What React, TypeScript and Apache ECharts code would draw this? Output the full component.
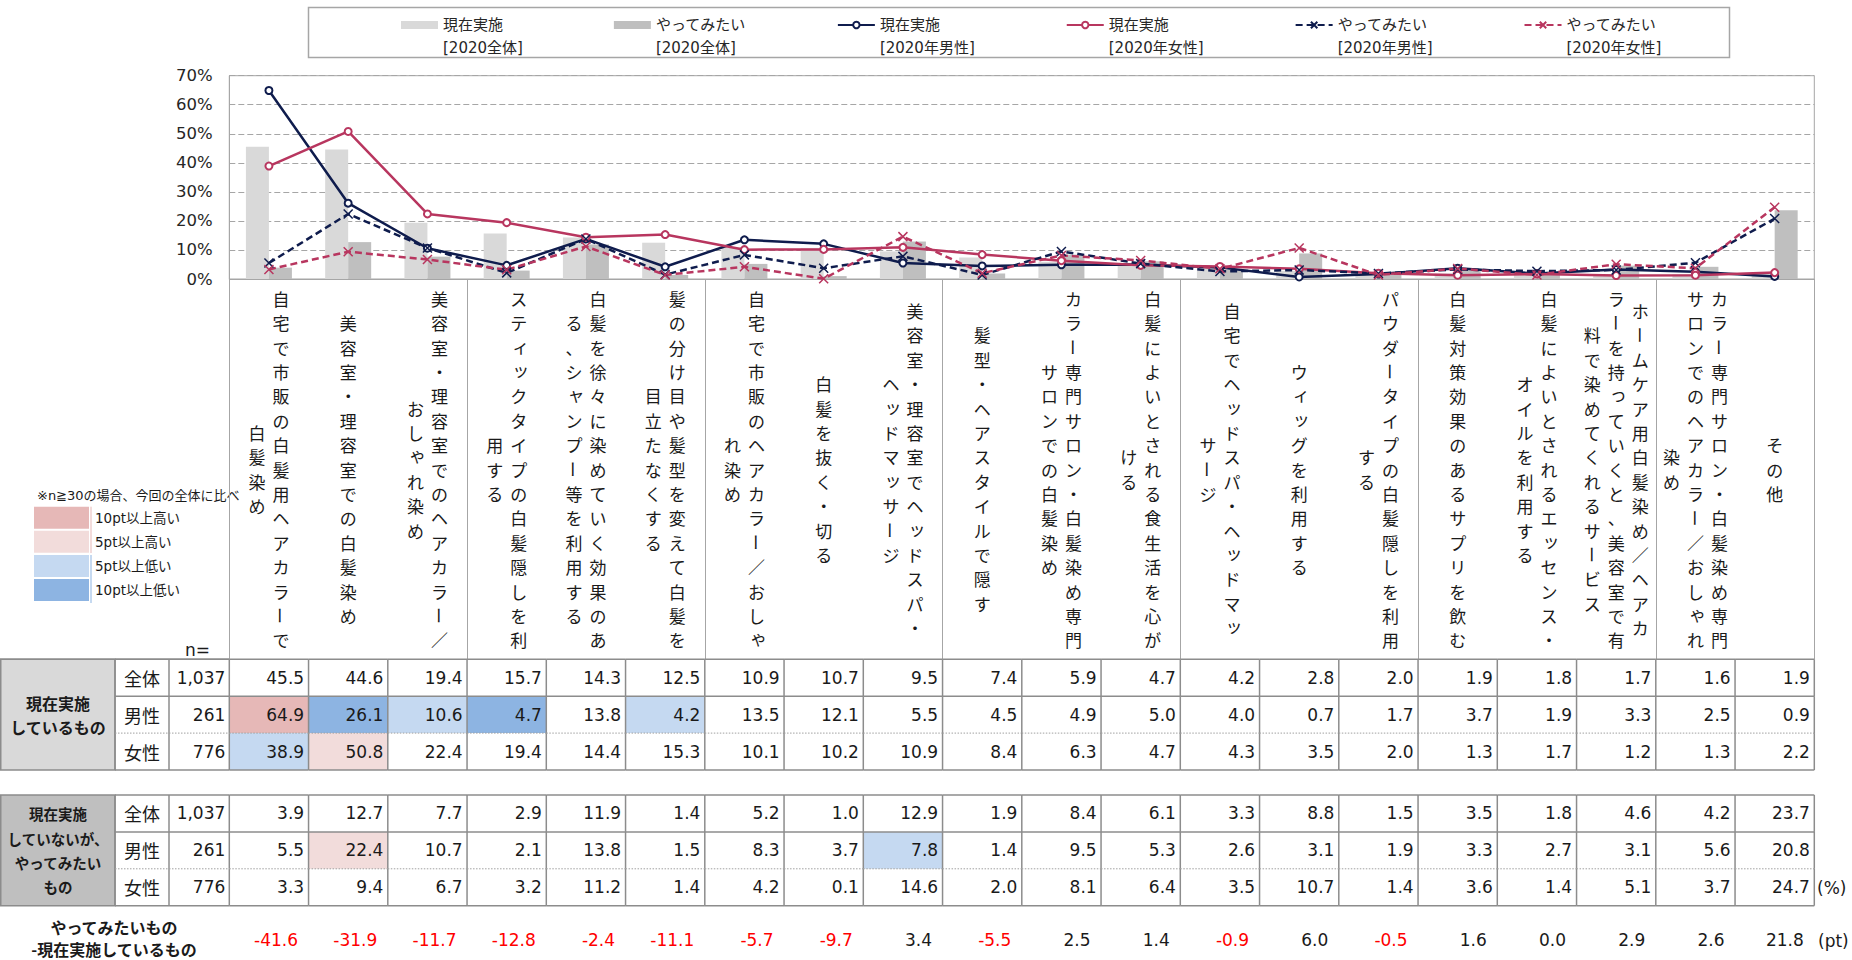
import React, { useEffect, useRef } from 'react';
import * as echarts from 'echarts';

// ---------------- data ----------------
const categories = [
  '自宅で市販の白髪用ヘアカラーで\n白髪染め',
  '美容室・理容室での白髪染め',
  '美容室・理容室でのヘアカラー／\nおしゃれ染め',
  'スティックタイプの白髪隠しを利\n用する',
  '白髪を徐々に染めていく効果のあ\nる、シャンプー等を利用する',
  '髪の分け目や髪型を変えて白髪を\n目立たなくする',
  '自宅で市販のヘアカラー／おしゃ\nれ染め',
  '白髪を抜く・切る',
  '美容室・理容室でヘッドスパ・\nヘッドマッサージ',
  '髪型・ヘアスタイルで隠す',
  'カラー専門サロン・白髪染め専門\nサロンでの白髪染め',
  '白髪によいとされる食生活を心が\nける',
  '自宅でヘッドスパ・ヘッドマッ\nサージ',
  'ウィッグを利用する',
  'パウダータイプの白髪隠しを利用\nする',
  '白髪対策効果のあるサプリを飲む',
  '白髪によいとされるエッセンス・\nオイルを利用する',
  'ホームケア用白髪染め／ヘアカ\nラーを持っていくと、美容室で有\n料で染めてくれるサービス',
  'カラー専門サロン・白髪染め専門\nサロンでのヘアカラー／おしゃれ\n染め',
  'その他',
];

const currentTotal = [45.5, 44.6, 19.4, 15.7, 14.3, 12.5, 10.9, 10.7, 9.5, 7.4, 5.9, 4.7, 4.2, 2.8, 2.0, 1.9, 1.8, 1.7, 1.6, 1.9];
const currentMale = [64.9, 26.1, 10.6, 4.7, 13.8, 4.2, 13.5, 12.1, 5.5, 4.5, 4.9, 5.0, 4.0, 0.7, 1.7, 3.7, 1.9, 3.3, 2.5, 0.9];
const currentFemale = [38.9, 50.8, 22.4, 19.4, 14.4, 15.3, 10.1, 10.2, 10.9, 8.4, 6.3, 4.7, 4.3, 3.5, 2.0, 1.3, 1.7, 1.2, 1.3, 2.2];
const wantTotal = [3.9, 12.7, 7.7, 2.9, 11.9, 1.4, 5.2, 1.0, 12.9, 1.9, 8.4, 6.1, 3.3, 8.8, 1.5, 3.5, 1.8, 4.6, 4.2, 23.7];
const wantMale = [5.5, 22.4, 10.7, 2.1, 13.8, 1.5, 8.3, 3.7, 7.8, 1.4, 9.5, 5.3, 2.6, 3.1, 1.9, 3.3, 2.7, 3.1, 5.6, 20.8];
const wantFemale = [3.3, 9.4, 6.7, 3.2, 11.2, 1.4, 4.2, 0.1, 14.6, 2.0, 8.1, 6.4, 3.5, 10.7, 1.4, 3.6, 1.4, 5.1, 3.7, 24.7];
const wantMinusCurrent = [-41.6, -31.9, -11.7, -12.8, -2.4, -11.1, -5.7, -9.7, 3.4, -5.5, 2.5, 1.4, -0.9, 6.0, -0.5, 1.6, 0.0, 2.9, 2.6, 21.8];

// highlight level of each cell: 2 = 10pt以上高い, 1 = 5pt以上高い, -1 = 5pt以上低い, -2 = 10pt以上低い
const totalMark = [0, 0, 0, 0, 0, 0, 0, 0, 0, 0, 0, 0, 0, 0, 0, 0, 0, 0, 0, 0];
const currentMaleMark = [2, -2, -1, -2, 0, -1, 0, 0, 0, 0, 0, 0, 0, 0, 0, 0, 0, 0, 0, 0];
const currentFemaleMark = [-1, 1, 0, 0, 0, 0, 0, 0, 0, 0, 0, 0, 0, 0, 0, 0, 0, 0, 0, 0];
const wantMaleMark = [0, 1, 0, 0, 0, 0, 0, 0, -1, 0, 0, 0, 0, 0, 0, 0, 0, 0, 0, 0];
const wantFemaleMark = [0, 0, 0, 0, 0, 0, 0, 0, 0, 0, 0, 0, 0, 0, 0, 0, 0, 0, 0, 0];

const rowLabels = ['全体', '男性', '女性'];
const sampleSizes = ['1,037', '261', '776'];
const seriesNames = [
  '現在実施\n[2020全体]',
  'やってみたい\n[2020全体]',
  '現在実施\n[2020年男性]',
  '現在実施\n[2020年女性]',
  'やってみたい\n[2020年男性]',
  'やってみたい\n[2020年女性]',
];
const markLegend = ['10pt以上高い', '5pt以上高い', '5pt以上低い', '10pt以上低い'];
const markLevels = [2, 1, -1, -2];
const markNote = '※n≧30の場合、今回の全体に比べ';
const table1Title = '現在実施\nしているもの';
const table2Title = '現在実施\nしていないが、\nやってみたい\nもの';
const diffTitle = 'やってみたいもの\n-現在実施しているもの';

// ---------------- styles / layout ----------------
const NUM_FONT = "'DejaVu Sans', 'Noto Sans CJK JP', sans-serif";
const JP_FONT = "'Noto Sans CJK JP', sans-serif";
const NAVY = '#0f1c4d';
const CRIMSON = '#b8365f';
const BORDER = '#8c8c8c';
const GRIDC = '#a6a6a6';
const TEXT = '#1a1a1a';
const MARK_COLORS: Record<string, string> = { '2': '#e6b8b7', '1': '#f2dcdb', '-1': '#c5d9f1', '-2': '#8db4e2' };

const PLOT_L = 229.3;
const PLOT_R = 1814.3;
const PLOT_W = PLOT_R - PLOT_L;
const PLOT_T = 75.7;
const PLOT_B = 279;
const LABEL_B = 659.3;
const ROW_H = 36.9;
const T1_TOP = 659.3;
const T2_TOP = 795;
const DIFF_TOP = 922;
const DIFF_H = 36;
const MID_Y = (PLOT_B + LABEL_B) / 2;
const CHAR_PITCH = 24.4;
const COL_PITCH = 24;
const LEGEND_LH = 23;

const CROSS = 'path://M0,0L10,10M10,0L0,10';

function buildCells(rows: number[][], marks: number[][]) {
  const out: number[][] = [];
  rows.forEach((row, ri) => row.forEach((v, ci) => out.push([ci, ri, v, marks[ri][ci]])));
  return out;
}

const renderCell = (params: any, api: any) => {
  const ci = api.value(0);
  const ri = api.value(1);
  const v = api.value(2);
  const lv = api.value(3);
  const c = api.coord([ci, ri]);
  const s = api.size([1, 1]);
  const x0 = c[0] - s[0] / 2;
  const y0 = c[1] - s[1] / 2;
  const w = s[0];
  const h = s[1];
  const solid = { stroke: BORDER, lineWidth: 1.5 };
  const dotted = { stroke: '#a0a0a0', lineWidth: 1, lineDash: [1.5, 1.5] };
  const children: any[] = [];
  if (lv) children.push({ type: 'rect', shape: { x: x0, y: y0, width: w, height: h }, style: { fill: MARK_COLORS[String(lv)] } });
  children.push({ type: 'line', shape: { x1: x0, y1: y0, x2: x0, y2: y0 + h }, style: solid });
  children.push({ type: 'line', shape: { x1: x0, y1: y0, x2: x0 + w, y2: y0 }, style: ri === 2 ? dotted : solid });
  if (ci === categories.length - 1) children.push({ type: 'line', shape: { x1: x0 + w, y1: y0, x2: x0 + w, y2: y0 + h }, style: solid });
  if (ri === 2) children.push({ type: 'line', shape: { x1: x0, y1: y0 + h, x2: x0 + w, y2: y0 + h }, style: solid });
  children.push({
    type: 'text',
    style: { text: Number(v).toFixed(1), x: x0 + w - 4.4, y: c[1], align: 'right', verticalAlign: 'middle', fontSize: 17, fontFamily: NUM_FONT, fill: TEXT },
  });
  return { type: 'group', children };
};

const renderDiff = (params: any, api: any) => {
  const ci = api.value(0);
  const v = api.value(2);
  const c = api.coord([ci, 0]);
  const s = api.size([1, 1]);
  return {
    type: 'text',
    style: {
      text: Number(v).toFixed(1), x: c[0] + s[0] / 2 - 10.5, y: c[1], align: 'right', verticalAlign: 'middle',
      fontSize: 17, fontFamily: NUM_FONT, fill: v < 0 ? '#ff0000' : TEXT,
    },
  };
};

const ROTATE = new Set(['ー', '－', '～']);
const SMALL = new Set(['ッ', 'ャ', 'ュ', 'ョ', 'ィ', 'ェ', 'ァ', 'ォ', 'っ', 'ゃ', 'ゅ', 'ょ', 'ぃ']);

function verticalLabel(text: string, cx: number) {
  const cols = text.split('\n');
  const n = cols.length;
  const els: any[] = [];
  cols.forEach((col, j) => {
    const x = cx + ((n - 1) / 2 - j) * COL_PITCH;
    const chars = Array.from(col);
    chars.forEach((ch, k) => {
      const y = MID_Y + (k - (chars.length - 1) / 2) * CHAR_PITCH;
      let dx = 0;
      let dy = 0;
      let rot = 0;
      if (ROTATE.has(ch)) rot = -Math.PI / 2;
      else if (SMALL.has(ch)) { dx = 2; dy = -2; }
      els.push({
        type: 'text', x: x + dx, y: y + dy, rotation: rot, silent: true,
        style: { text: ch, x: 0, y: 0, align: 'center', verticalAlign: 'middle', fontSize: 17, fontFamily: JP_FONT, fill: TEXT },
      });
    });
  });
  return els;
}

function tableHeader(top: number, title: string, fill: string, lineH: number, fs: number) {
  const els: any[] = [];
  const h = 3 * ROW_H;
  els.push({ type: 'rect', shape: { x: 0.75, y: top, width: 114.25, height: h }, style: { fill, stroke: BORDER, lineWidth: 1.5 } });
  els.push({
    type: 'text', style: {
      text: title, x: 58, y: top + h / 2, align: 'center', verticalAlign: 'middle', fontSize: fs, fontWeight: 'bold',
      fontFamily: JP_FONT, lineHeight: lineH, fill: TEXT,
    },
  });
  [115, 169].forEach((x) => els.push({ type: 'line', shape: { x1: x, y1: top, x2: x, y2: top + h }, style: { stroke: BORDER, lineWidth: 1.5 } }));
  [0, 1, 2, 3].forEach((r) => els.push({
    type: 'line', shape: { x1: 115, y1: top + r * ROW_H, x2: PLOT_L, y2: top + r * ROW_H },
    style: r === 2 ? { stroke: '#a0a0a0', lineWidth: 1, lineDash: [1.5, 1.5] } : { stroke: BORDER, lineWidth: 1.5 },
  }));
  rowLabels.forEach((lab, r) => {
    els.push({ type: 'text', style: { text: lab, x: 142, y: top + (r + 0.5) * ROW_H, align: 'center', verticalAlign: 'middle', fontSize: 18, fontFamily: JP_FONT, fill: TEXT } });
    els.push({ type: 'text', style: { text: sampleSizes[r], x: 225.3, y: top + (r + 0.5) * ROW_H, align: 'right', verticalAlign: 'middle', fontSize: 17, fontFamily: NUM_FONT, fill: TEXT } });
  });
  return els;
}

export default function App() {
  const ref = useRef<HTMLDivElement>(null);
  useEffect(() => {
    if (!ref.current) return;
    const chart = echarts.init(ref.current, null, { renderer: 'svg' });
    const option: any = {
      animation: false,
      textStyle: { fontFamily: NUM_FONT },
      legend: {
        data: seriesNames.map((n, i) => (i < 2 ? { name: n, icon: 'rect' } : { name: n })),
        left: 401,
        top: 25 - 1.5 * LEGEND_LH,
        padding: 0,
        itemGap: 91,
        itemWidth: 37,
        itemHeight: 8,
        selectedMode: false,
        formatter: (name: string) => '\n' + name,
        textStyle: { fontSize: 15, lineHeight: LEGEND_LH, color: '#262626', fontFamily: NUM_FONT },
      },
      grid: [
        { left: PLOT_L, top: PLOT_T, width: PLOT_W, height: PLOT_B - PLOT_T, show: true, borderColor: GRIDC, borderWidth: 1 },
        { left: PLOT_L, top: T1_TOP, width: PLOT_W, height: 3 * ROW_H },
        { left: PLOT_L, top: T2_TOP, width: PLOT_W, height: 3 * ROW_H },
        { left: PLOT_L, top: DIFF_TOP, width: PLOT_W, height: DIFF_H },
      ],
      xAxis: [
        {
          type: 'category', gridIndex: 0, data: categories, boundaryGap: true,
          axisLabel: { show: false },
          axisTick: { show: true, length: LABEL_B - PLOT_B, lineStyle: { color: GRIDC, width: 1 } },
          axisLine: { show: true, lineStyle: { color: GRIDC, width: 1 } },
          splitLine: { show: false },
        },
        { type: 'category', gridIndex: 1, data: categories, show: false },
        { type: 'category', gridIndex: 2, data: categories, show: false },
        { type: 'category', gridIndex: 3, data: categories, show: false },
      ],
      yAxis: [
        {
          type: 'value', gridIndex: 0, min: 0, max: 70, interval: 10,
          axisLabel: { formatter: '{value}%', fontSize: 16.5, color: '#262626', margin: 16.5, fontFamily: NUM_FONT },
          axisLine: { show: true, lineStyle: { color: GRIDC } },
          axisTick: { show: false },
          splitLine: { show: true, lineStyle: { color: GRIDC, type: [6, 3], width: 1 } },
        },
        { type: 'category', gridIndex: 1, data: rowLabels, inverse: true, show: false },
        { type: 'category', gridIndex: 2, data: rowLabels, inverse: true, show: false },
        { type: 'category', gridIndex: 3, data: ['diff'], show: false },
      ],
      series: [
        { name: seriesNames[0], type: 'bar', data: currentTotal, barWidth: 23, barGap: '0%', itemStyle: { color: '#d9d9d9' } },
        { name: seriesNames[1], type: 'bar', data: wantTotal, barWidth: 23, barGap: '0%', itemStyle: { color: '#bfbfbf' } },
        {
          name: seriesNames[2], type: 'line', data: currentMale, symbol: 'emptyCircle', symbolSize: 7,
          itemStyle: { color: NAVY, borderWidth: 1.5 }, lineStyle: { color: NAVY, width: 2.5 },
        },
        {
          name: seriesNames[3], type: 'line', data: currentFemale, symbol: 'emptyCircle', symbolSize: 7,
          itemStyle: { color: CRIMSON, borderWidth: 1.5 }, lineStyle: { color: CRIMSON, width: 2.5 },
        },
        {
          name: seriesNames[4], type: 'line', data: wantMale, symbol: CROSS, symbolSize: 9,
          itemStyle: { color: NAVY, borderColor: NAVY, borderWidth: 1.5 }, lineStyle: { color: NAVY, width: 2.5, type: [7, 4] },
        },
        {
          name: seriesNames[5], type: 'line', data: wantFemale, symbol: CROSS, symbolSize: 9,
          itemStyle: { color: CRIMSON, borderColor: CRIMSON, borderWidth: 1.5 }, lineStyle: { color: CRIMSON, width: 2.5, type: [7, 4] },
        },
        {
          name: 'table1', type: 'custom', xAxisIndex: 1, yAxisIndex: 1, silent: true,
          data: buildCells([currentTotal, currentMale, currentFemale], [totalMark, currentMaleMark, currentFemaleMark]),
          renderItem: renderCell,
        },
        {
          name: 'table2', type: 'custom', xAxisIndex: 2, yAxisIndex: 2, silent: true,
          data: buildCells([wantTotal, wantMale, wantFemale], [totalMark, wantMaleMark, wantFemaleMark]),
          renderItem: renderCell,
        },
        {
          name: 'diff', type: 'custom', xAxisIndex: 3, yAxisIndex: 3, silent: true,
          data: wantMinusCurrent.map((v, i) => [i, 0, v]),
          renderItem: renderDiff,
        },
      ],
    };
    chart.setOption(option);

    const els: any[] = [];
    // legend frame
    els.push({ type: 'rect', silent: true, shape: { x: 308.5, y: 7.5, width: 1421, height: 50 }, style: { fill: 'none', stroke: GRIDC, lineWidth: 1.5 }, z: -1 });
    // category labels (vertical writing)
    categories.forEach((c, i) => {
      const cx = chart.convertToPixel({ xAxisIndex: 0 } as any, i) as unknown as number;
      els.push(...verticalLabel(c, cx));
    });
    // highlight key
    els.push({ type: 'text', style: { text: markNote, x: 37, y: 495, align: 'left', verticalAlign: 'middle', fontSize: 13, fontFamily: NUM_FONT, fill: TEXT } });
    const keyTops = [506.7, 530.7, 555, 579];
    markLegend.forEach((lab, i) => {
      els.push({ type: 'rect', shape: { x: 34, y: keyTops[i], width: 55, height: 22 }, style: { fill: MARK_COLORS[String(markLevels[i])] } });
      els.push({ type: 'text', style: { text: lab, x: 95, y: keyTops[i] + 11, align: 'left', verticalAlign: 'middle', fontSize: 13.5, fontFamily: NUM_FONT, fill: TEXT } });
    });
    els.push({ type: 'line', shape: { x1: 91, y1: 506.7, x2: 91, y2: 553 }, style: { stroke: '#e6b8b7', lineWidth: 1 } });
    els.push({ type: 'line', shape: { x1: 91, y1: 555, x2: 91, y2: 603 }, style: { stroke: '#8db4e2', lineWidth: 1 } });
    els.push({ type: 'text', style: { text: 'n=', x: 210, y: 650, align: 'right', verticalAlign: 'middle', fontSize: 17, fontFamily: NUM_FONT, fill: TEXT } });
    // table headers
    els.push(...tableHeader(T1_TOP, table1Title, '#d9d9d9', 24, 16));
    els.push(...tableHeader(T2_TOP, table2Title, '#bfbfbf', 24.3, 14.5));
    els.push({ type: 'line', shape: { x1: 0, y1: T1_TOP, x2: PLOT_L, y2: T1_TOP }, style: { stroke: BORDER, lineWidth: 1.5 } });
    els.push({
      type: 'text', style: {
        text: diffTitle, x: 114, y: 937.5, align: 'center', verticalAlign: 'middle', fontSize: 16, fontWeight: 'bold',
        fontFamily: JP_FONT, lineHeight: 22, fill: TEXT,
      },
    });
    els.push({ type: 'text', style: { text: '(%)', x: 1817, y: 888, align: 'left', verticalAlign: 'middle', fontSize: 17, fontFamily: NUM_FONT, fill: TEXT } });
    els.push({ type: 'text', style: { text: '(pt)', x: 1818, y: 941, align: 'left', verticalAlign: 'middle', fontSize: 17, fontFamily: NUM_FONT, fill: TEXT } });

    chart.setOption({ graphic: { elements: els } });
    return () => chart.dispose();
  }, []);
  return <div ref={ref} style={{ position: 'absolute', left: 0, top: 0, width: 1852, height: 960, background: '#fff' }} />;
}
